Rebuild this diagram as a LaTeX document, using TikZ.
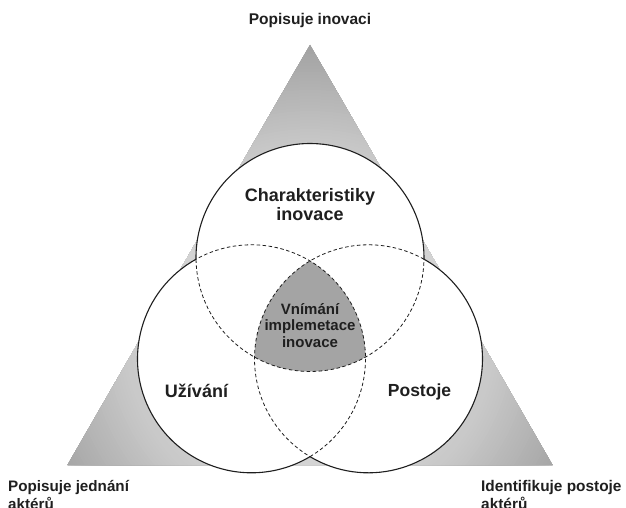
\documentclass[tikz,border=0pt]{standalone}
\usepackage{fontspec}
\setmainfont{Liberation Sans}
\definecolor{tripgray}{HTML}{A4A4A4}
\definecolor{linegray}{HTML}{1E1E1E}
\begin{document}
\begin{tikzpicture}[x=1pt,y=1pt,
  outline/.style={draw=linegray, line width=1.1pt},
  dashline/.style={draw=linegray, line width=0.8pt, dash pattern=on 3.5pt off 2.5pt},
  lbl/.style={inner sep=0pt, font=\bfseries, text=black!88},
]
\useasboundingbox (0,0) rectangle (626,507);
% geometry
\coordinate (T) at (310,249.5);
\coordinate (L) at (251.5,148.2);
\coordinate (R) at (368.5,148.2);
\coordinate (apex) at (310,462);
\coordinate (bl) at (67.5,42);
\coordinate (br) at (552.5,42);
\coordinate (shc) at (310,174);
% shaded triangle (radial gradient built from rings)
\begin{scope}
  \clip (apex) -- (bl) -- (br) -- cycle;
  \foreach \d in {300,297,...,138} {
    \pgfmathsetmacro\p{\d>190 ? 21.6+(\d-190)*15.4/102 : 17+(\d-140)*4.6/50}
    \fill[black!\p] (shc) circle (\d);
  }
\end{scope}
% white circles
\fill[white] (T) circle (114) (L) circle (114) (R) circle (114);
% triple intersection
\begin{scope}
  \clip (T) circle (114);
  \clip (L) circle (114);
  \fill[tripgray] (R) circle (114);
\end{scope}
% dashed inner arcs
\draw[dashline] (T) ++(180.9:114) arc[start angle=180.9, end angle=359.1, radius=114];
\draw[dashline] (L) ++(-59.1:114) arc[start angle=-59.1, end angle=119.1, radius=114];
\draw[dashline] (R) ++(60.9:114) arc[start angle=60.9, end angle=239.1, radius=114];
% solid outer arcs
\draw[outline] (T) ++(-0.9:114) arc[start angle=-0.9, end angle=180.9, radius=114];
\draw[outline] (L) ++(119.1:114) arc[start angle=119.1, end angle=300.9, radius=114];
\draw[outline] (R) ++(-120.9:114) arc[start angle=-120.9, end angle=60.9, radius=114];
% labels
\node[lbl, anchor=base, font=\bfseries\fontsize{15.5}{18}\selectfont] (top) at (310,482) {Popisuje inovaci};
\node[lbl, anchor=base, font=\bfseries\fontsize{18}{20}\selectfont] (char1) at (310,306) {Charakteristiky};
\node[lbl, anchor=base, font=\bfseries\fontsize{18}{20}\selectfont] (char2) at (310,287) {inovace};
\node[lbl, anchor=base, font=\bfseries\fontsize{15}{17}\selectfont] (vn1) at (310,193) {Vnímání};
\node[lbl, anchor=base, font=\bfseries\fontsize{15}{17}\selectfont] (vn2) at (310,177) {implemetace};
\node[lbl, anchor=base, font=\bfseries\fontsize{15}{17}\selectfont] (vn3) at (310,160) {inovace};
\node[lbl, anchor=base, font=\bfseries\fontsize{18}{20}\selectfont] (uz) at (196.5,110) {Užívání};
\node[lbl, anchor=base, font=\bfseries\fontsize{17.5}{20}\selectfont] (po) at (419.5,111) {Postoje};
\node[lbl, anchor=base west, font=\bfseries\fontsize{15.2}{18}\selectfont] (bl1) at (8,16) {Popisuje jednání};
\node[lbl, anchor=base west, font=\bfseries\fontsize{15.2}{18}\selectfont] (bl2) at (8,-2) {aktérů};
\node[lbl, anchor=base west, font=\bfseries\fontsize{15.4}{18}\selectfont] (br1) at (481,16) {Identifikuje postoje};
\node[lbl, anchor=base west, font=\bfseries\fontsize{15.4}{18}\selectfont] (br2) at (481,-2) {aktérů};
\end{tikzpicture}
\end{document}
